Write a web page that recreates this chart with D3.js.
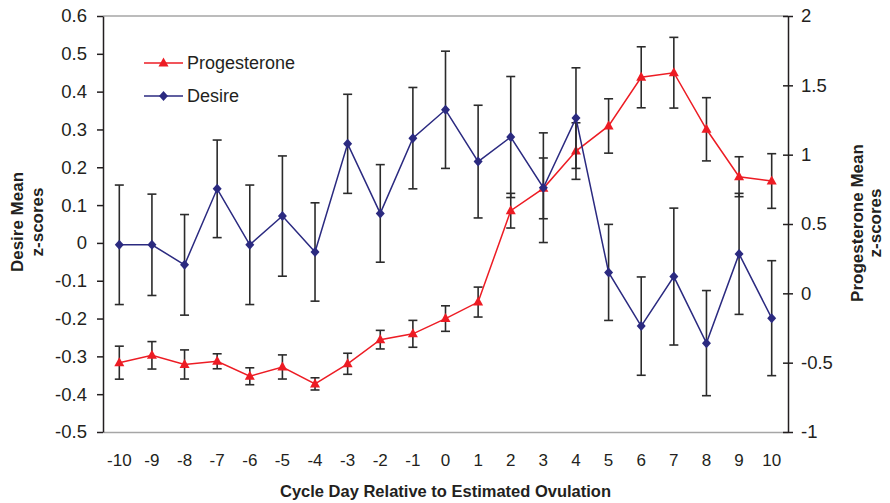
<!DOCTYPE html>
<html>
<head>
<meta charset="utf-8">
<script src="https://cdn.jsdelivr.net/npm/d3@7"></script>
<style>
  body { margin: 0; background: #fff; }
  svg text { font-family: Arial, "Liberation Sans", sans-serif; fill: #231f20; }
</style>
</head>
<body>
<div id="plot"></div>
<script>
var days = [-10, -9, -8, -7, -6, -5, -4, -3, -2, -1, 0, 1, 2, 3, 4, 5, 6, 7, 8, 9, 10]
var desireMean = [-0.005, -0.005, -0.058, 0.143, -0.005, 0.071, -0.024, 0.262, 0.078, 0.277, 0.352, 0.215, 0.28, 0.146, 0.33, -0.078, -0.22, -0.089, -0.265, -0.029, -0.199]
var desireErr = [0.158, 0.134, 0.133, 0.129, 0.158, 0.159, 0.13, 0.131, 0.129, 0.134, 0.155, 0.149, 0.16, 0.145, 0.133, 0.127, 0.13, 0.181, 0.139, 0.16, 0.152]
var progMean = [-0.5, -0.447, -0.513, -0.49, -0.598, -0.531, -0.653, -0.508, -0.334, -0.292, -0.182, -0.063, 0.596, 0.757, 1.026, 1.207, 1.558, 1.591, 1.183, 0.841, 0.81]
var progErr = [0.119, 0.099, 0.105, 0.054, 0.061, 0.087, 0.044, 0.076, 0.067, 0.097, 0.092, 0.108, 0.125, 0.219, 0.204, 0.196, 0.22, 0.255, 0.228, 0.144, 0.197]
var leftTicks = [-0.5, -0.4, -0.3, -0.2, -0.1, 0, 0.1, 0.2, 0.3, 0.4, 0.5, 0.6]
var rightTicks = [-1, -0.5, 0, 0.5, 1, 1.5, 2]

var red = '#ed1c24'
var navy = '#2b2a80'
var barColor = '#2b2b2b'

var margin = { top: 16, right: 102, bottom: 71, left: 103 }
var width = 890
var height = 503

var svg = d3.select('#plot').append('svg')
  .attr('width', width)
  .attr('height', height)

var xScale = d3.scaleBand()
  .domain(days)
  .range([margin.left, width - margin.right])
function cx(d) { return xScale(d) + xScale.bandwidth() / 2 }

var yLeft = d3.scaleLinear().domain([-0.5, 0.6]).range([height - margin.bottom, margin.top])
var yRight = d3.scaleLinear().domain([-1, 2]).range([height - margin.bottom, margin.top])

// top frame line
svg.append('line')
  .attr('x1', margin.left).attr('x2', width - margin.right)
  .attr('y1', margin.top).attr('y2', margin.top)
  .style('stroke', '#a6a6a6').style('stroke-width', 1.5)

// x axis
var xAxis = svg.append('g')
  .attr('transform', 'translate(0,' + (height - margin.bottom) + ')')
  .call(d3.axisBottom(xScale).tickSize(0).tickPadding(22))
xAxis.select('.domain').style('stroke', '#a6a6a6').style('stroke-width', 1.5)
xAxis.selectAll('text').style('font-size', '17px')

// left axis
var leftAxis = svg.append('g')
  .attr('transform', 'translate(' + margin.left + ',0)')
  .call(d3.axisLeft(yLeft).tickValues(leftTicks).tickSizeInner(6).tickSizeOuter(0).tickPadding(10)
    .tickFormat(function(d) { return d === 0 ? '0' : d.toFixed(1) }))
leftAxis.selectAll('path, line').style('stroke', '#231f20').style('stroke-width', 1.5)
leftAxis.selectAll('text').style('font-size', '18.5px')

// right axis, ticks crossing the line
var rightAxis = svg.append('g')
  .attr('transform', 'translate(' + (width - margin.right) + ',0)')
  .call(d3.axisRight(yRight).tickValues(rightTicks).tickSizeInner(5).tickSizeOuter(0).tickPadding(8)
    .tickFormat(function(d) { return String(d) }))
rightAxis.selectAll('.tick line').attr('x1', -5).attr('x2', 5)
rightAxis.selectAll('path, line').style('stroke', '#231f20').style('stroke-width', 1.5)
rightAxis.selectAll('text').style('font-size', '18.5px')

// axis titles
svg.append('text')
  .attr('x', (margin.left + width - margin.right) / 2)
  .attr('y', 497)
  .attr('text-anchor', 'middle')
  .style('font-size', '16.5px').style('font-weight', 'bold')
  .text('Cycle Day Relative to Estimated Ovulation')

var leftTitle = svg.append('text')
  .attr('transform', 'translate(23,222) rotate(-90)')
  .attr('text-anchor', 'middle')
  .style('font-size', '17px').style('font-weight', 'bold')
leftTitle.append('tspan').attr('x', 0).attr('y', 0).text('Desire Mean')
leftTitle.append('tspan').attr('x', 0).attr('y', 20).text('z-scores')

var rightTitle = svg.append('text')
  .attr('transform', 'translate(863,223) rotate(-90)')
  .attr('text-anchor', 'middle')
  .style('font-size', '17px').style('font-weight', 'bold')
rightTitle.append('tspan').attr('x', 0).attr('y', 0).text('Progesterone Mean')
rightTitle.append('tspan').attr('x', 0).attr('y', 18).text('z-scores')

var triangle = 'M0,-5.5L5,3.5L-5,3.5Z'
var diamond = 'M0,-5L4.5,0L0,5L-4.5,0Z'

function drawBars(mean, err, scale) {
  var g = svg.append('g')
    .style('stroke', barColor).style('stroke-width', 1.6).style('fill', 'none')
  days.forEach(function(d, i) {
    var x = cx(d)
    var top = scale(mean[i] + err[i])
    var bot = scale(mean[i] - err[i])
    g.append('line').attr('x1', x).attr('x2', x).attr('y1', top).attr('y2', bot)
    g.append('line').attr('x1', x - 4.5).attr('x2', x + 4.5).attr('y1', top).attr('y2', top)
    g.append('line').attr('x1', x - 4.5).attr('x2', x + 4.5).attr('y1', bot).attr('y2', bot)
  })
}

function drawSeries(mean, scale, color, shape) {
  var line = d3.line()
    .x(function(d) { return cx(d) })
    .y(function(d, i) { return scale(mean[i]) })
  svg.append('path')
    .datum(days)
    .attr('d', line)
    .style('fill', 'none')
    .style('stroke', color)
    .style('stroke-width', 1.5)
  svg.append('g').selectAll('path')
    .data(days)
    .enter()
    .append('path')
    .attr('d', shape)
    .attr('transform', function(d, i) { return 'translate(' + cx(d) + ',' + scale(mean[i]) + ')' })
    .style('fill', color)
}

drawBars(progMean, progErr, yRight)
drawSeries(progMean, yRight, red, triangle)
drawBars(desireMean, desireErr, yLeft)
drawSeries(desireMean, yLeft, navy, diamond)

// legend
var legend = [
  { name: 'Progesterone', color: red, shape: triangle, y: 63 },
  { name: 'Desire', color: navy, shape: diamond, y: 96 }
]
legend.forEach(function(l) {
  svg.append('line')
    .attr('x1', 144).attr('x2', 183).attr('y1', l.y).attr('y2', l.y)
    .style('stroke', l.color).style('stroke-width', 1.5)
  svg.append('path')
    .attr('d', l.shape)
    .attr('transform', 'translate(163.5,' + l.y + ')')
    .style('fill', l.color)
  svg.append('text')
    .attr('x', 187).attr('y', l.y + 6)
    .style('font-size', '18px')
    .text(l.name)
})
</script>
</body>
</html>
